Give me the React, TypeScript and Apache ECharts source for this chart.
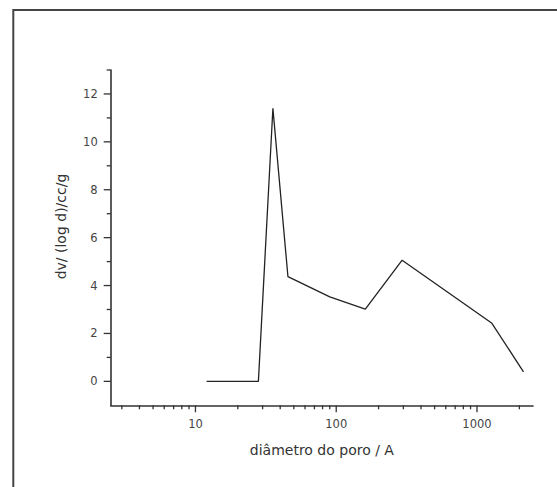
import React, { useEffect, useRef } from 'react';
import * as echarts from 'echarts';

// Pore size distribution
const poreDiameter = [12, 28, 35.5, 45.4, 90, 161, 294, 1270, 2140];
const dvLogD = [0, 0, 11.4, 4.37, 3.53, 3.02, 5.06, 2.44, 0.4];

// Axis ticks
const xMajorTicks = [10, 100, 1000];
const xMinorTicks = [3, 4, 5, 6, 7, 8, 9, 20, 30, 40, 50, 60, 70, 80, 90, 200, 300, 400, 500, 600, 700, 800, 900, 2000];
const yMajorTicks = [0, 2, 4, 6, 8, 10, 12];
const yMinorTicks = [1, 3, 5, 7, 9, 11, 13];

const X_MIN = 2.5;
const X_MAX = 2500;
const Y_MIN = -1;
const Y_MAX = 13;

const FONT = "'DejaVu Sans', Verdana, sans-serif";
const AXIS_COLOR = '#333';

function tickSeries(values: number[], dir: 'x' | 'y', len: number) {
  return {
    type: 'custom',
    silent: true,
    clip: false,
    z: 5,
    data: values.map((v) => (dir === 'x' ? [v, Y_MIN] : [X_MIN, v])),
    encode: { x: 0, y: 1 },
    renderItem: (_params: any, api: any) => {
      const p = api.coord([api.value(0), api.value(1)]);
      const shape =
        dir === 'x'
          ? { x1: p[0], y1: p[1], x2: p[0], y2: p[1] + len }
          : { x1: p[0] - len, y1: p[1], x2: p[0], y2: p[1] };
      return {
        type: 'line',
        shape,
        style: { stroke: AXIS_COLOR, lineWidth: 1.3 },
      };
    },
  };
}

export default function App() {
  const ref = useRef<HTMLDivElement>(null);

  useEffect(() => {
    if (!ref.current) return;
    const chart = echarts.init(ref.current, undefined, { renderer: 'svg' });
    const isPow10 = (v: number) => {
      const l = Math.log10(v);
      return Math.abs(l - Math.round(l)) < 1e-6;
    };
    chart.setOption({
      animation: false,
      backgroundColor: '#ffffff',
      grid: { left: 110.7, top: 70, right: 24, bottom: 81.7, containLabel: false },
      xAxis: {
        type: 'log',
        logBase: 10,
        min: X_MIN,
        max: X_MAX,
        name: 'diâmetro do poro / A',
        nameLocation: 'middle',
        nameGap: 38,
        nameTextStyle: { fontFamily: FONT, fontSize: 14, color: '#333' },
        axisLine: { show: true, onZero: false, lineStyle: { color: AXIS_COLOR, width: 1.6 } },
        axisTick: { show: false },
        minorTick: { show: false },
        splitLine: { show: false },
        axisLabel: {
          show: true,
          margin: 13,
          fontFamily: FONT,
          fontSize: 11.5,
          color: '#444',
          showMinLabel: false,
          showMaxLabel: false,
          formatter: (v: number) => (isPow10(v) ? String(Math.round(v)) : ''),
        },
      },
      yAxis: {
        type: 'value',
        min: Y_MIN,
        max: Y_MAX,
        interval: 1,
        axisLine: { show: true, onZero: false, lineStyle: { color: AXIS_COLOR, width: 1.6 } },
        axisTick: { show: false },
        splitLine: { show: false },
        axisLabel: {
          show: true,
          margin: 13,
          fontFamily: FONT,
          fontSize: 11.5,
          color: '#444',
          formatter: (v: number) => (yMajorTicks.includes(Math.round(v)) && Math.abs(v - Math.round(v)) < 1e-6 ? String(Math.round(v)) : ''),
        },
      },
      graphic: [
        {
          type: 'rect',
          z: -10,
          shape: { x: 13.3, y: 10, width: 700, height: 700 },
          style: { fill: 'none', stroke: '#444', lineWidth: 2 },
          silent: true,
        },
        {
          type: 'text',
          x: 60.5,
          y: 226.5,
          rotation: Math.PI / 2,
          style: {
            text: 'dv/ (log d)/cc/g',
            font: `14px ${FONT}`,
            fill: '#333',
            align: 'center',
            verticalAlign: 'middle',
          },
          silent: true,
        },
      ],
      series: [
        {
          type: 'line',
          data: poreDiameter.map((x, i) => [x, dvLogD[i]]),
          symbol: 'none',
          lineStyle: { color: '#222', width: 1.3 },
          z: 3,
        },
        tickSeries(xMajorTicks, 'x', 7),
        tickSeries(xMinorTicks, 'x', 4),
        tickSeries(yMajorTicks, 'y', 7),
        tickSeries(yMinorTicks, 'y', 4),
      ],
    });
    return () => chart.dispose();
  }, []);

  return (
    <div
      ref={ref}
      style={{ position: 'absolute', left: 0, top: 0, width: 557, height: 487, background: '#fff' }}
    />
  );
}
